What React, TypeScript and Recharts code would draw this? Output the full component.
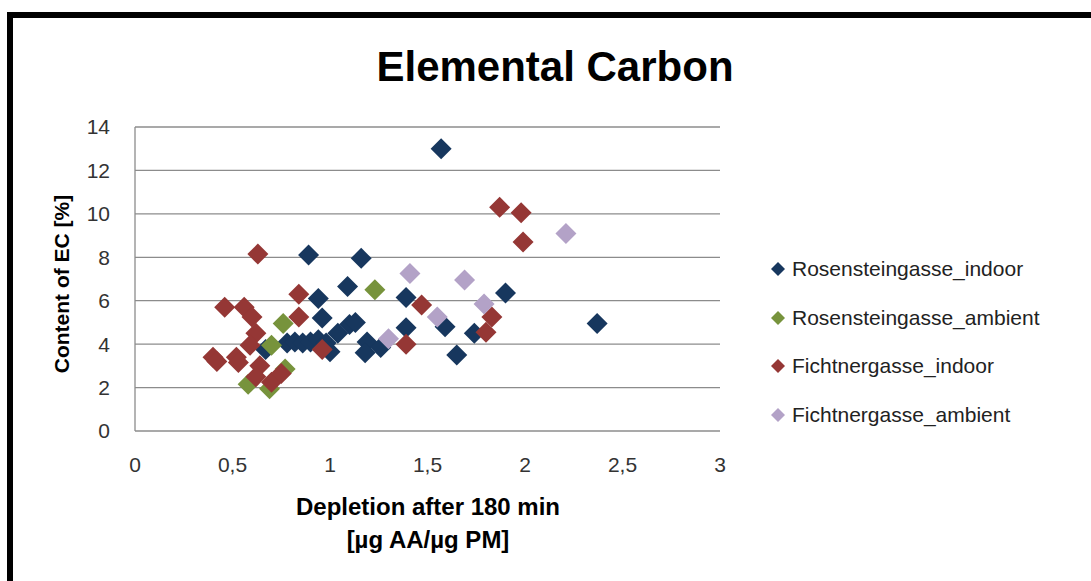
import { ScatterChart, Scatter, XAxis, YAxis, CartesianGrid } from 'recharts';

// Elemental Carbon vs. depletion after 180 min

const rosenIndoorX = [1.57, 0.89, 1.16, 1.09, 0.94, 1.39, 1.9, 2.37, 1.1, 1.13, 0.96, 1.04, 0.78, 0.82, 0.86, 0.9, 0.94, 0.98, 1.19, 1.18, 1.26, 1.39, 1.59, 1.74, 1.65, 0.67, 1.0];
const rosenIndoorY = [13.0, 8.1, 7.95, 6.65, 6.1, 6.15, 6.35, 4.95, 4.9, 5.0, 5.2, 4.5, 4.05, 4.1, 4.05, 4.1, 4.2, 4.05, 4.1, 3.6, 3.85, 4.75, 4.8, 4.5, 3.5, 3.75, 3.65];

const rosenAmbientX = [1.23, 0.76, 0.7, 0.58, 0.69, 0.77];
const rosenAmbientY = [6.5, 4.95, 3.95, 2.15, 1.95, 2.85];

const fichtIndoorX = [0.63, 1.87, 1.98, 1.99, 0.84, 1.47, 1.83, 1.8, 1.39, 0.84, 0.96, 0.46, 0.56, 0.6, 0.62, 0.59, 0.4, 0.42, 0.52, 0.53, 0.64, 0.62, 0.7, 0.75];
const fichtIndoorY = [8.15, 10.3, 10.05, 8.7, 6.3, 5.8, 5.25, 4.55, 4.0, 5.25, 3.75, 5.7, 5.7, 5.25, 4.5, 3.95, 3.4, 3.2, 3.4, 3.15, 3.0, 2.5, 2.25, 2.65];

const fichtAmbientX = [1.41, 1.69, 2.21, 1.79, 1.55, 1.3];
const fichtAmbientY = [7.25, 6.95, 9.1, 5.85, 5.25, 4.25];

const xTicks = [0, 0.5, 1, 1.5, 2, 2.5, 3];
const yTicks = [0, 2, 4, 6, 8, 10, 12, 14];

const toPoints = (xs: number[], ys: number[]) => xs.map((x, i) => ({ x, y: ys[i] }));

const series = [
  { name: 'Rosensteingasse_indoor', color: '#17375E', data: toPoints(rosenIndoorX, rosenIndoorY) },
  { name: 'Rosensteingasse_ambient', color: '#77933C', data: toPoints(rosenAmbientX, rosenAmbientY) },
  { name: 'Fichtnergasse_indoor', color: '#953735', data: toPoints(fichtIndoorX, fichtIndoorY) },
  { name: 'Fichtnergasse_ambient', color: '#B3A2C7', data: toPoints(fichtAmbientX, fichtAmbientY) },
];

const FONT = '"Liberation Sans", Arial, sans-serif';

function diamond(color: string, r: number) {
  return (props: any) => {
    const { cx, cy } = props;
    if (cx == null || cy == null) return <g />;
    return (
      <path
        d={`M${cx},${cy - r}L${cx + r},${cy}L${cx},${cy + r}L${cx - r},${cy}Z`}
        fill={color}
      />
    );
  };
}

export default function App() {
  return (
    <div style={{ position: 'fixed', left: 0, top: 0, width: 1091, height: 581, background: '#fff', overflow: 'hidden', fontFamily: FONT }}>
      {/* thick frame, cut off right and bottom */}
      <div style={{ position: 'absolute', left: 7, top: 12, width: 1200, height: 700, border: '6px solid #000', boxSizing: 'border-box' }} />

      <ScatterChart width={1091} height={581} margin={{ top: 127, right: 371, bottom: 90, left: 75 }} style={{ position: 'absolute', left: 0, top: 0 }}>
        <CartesianGrid vertical={false} stroke="#8c8c8c" strokeWidth={1.3} />
        <XAxis
          type="number"
          dataKey="x"
          domain={[0, 3]}
          ticks={xTicks}
          height={60}
          axisLine={false}
          tickLine={false}
          tickSize={0}
          tickMargin={26}
          tick={{ fill: '#333', fontSize: 21, fontFamily: FONT }}
          tickFormatter={(v: number) => String(v).replace('.', ',')}
        />
        <YAxis
          type="number"
          dataKey="y"
          domain={[0, 14]}
          ticks={yTicks}
          width={60}
          axisLine={{ stroke: '#8c8c8c', strokeWidth: 1.3 }}
          tickLine={false}
          tickSize={0}
          tickMargin={25}
          tick={{ fill: '#333', fontSize: 21, fontFamily: FONT }}
        />
        {series.map(s => (
          <Scatter key={s.name} name={s.name} data={s.data} fill={s.color} shape={diamond(s.color, 10.5)} isAnimationActive={false} />
        ))}
      </ScatterChart>

      <div style={{ position: 'absolute', left: 0, width: 1110, top: 43, textAlign: 'center', fontSize: 42, fontWeight: 'bold', color: '#000' }}>
        Elemental Carbon
      </div>

      <div style={{ position: 'absolute', left: 62, top: 284, transform: 'translate(-50%, -50%) rotate(-90deg)', whiteSpace: 'nowrap', fontSize: 21, fontWeight: 'bold', color: '#000' }}>
        Content of EC [%]
      </div>

      <div style={{ position: 'absolute', left: 228, width: 400, top: 490, textAlign: 'center', fontSize: 24, fontWeight: 'bold', color: '#000', lineHeight: '33px' }}>
        Depletion after 180 min
        <br />
        [µg AA/µg PM]
      </div>

      <div style={{ position: 'absolute', left: 770, top: 245 }}>
        {series.map(s => (
          <div key={s.name} style={{ display: 'flex', alignItems: 'center', height: 48.5 }}>
            <svg width={16} height={16} style={{ marginRight: 6 }}>
              <path d="M8,1L15,8L8,15L1,8Z" fill={s.color} />
            </svg>
            <span style={{ fontSize: 21, color: '#222' }}>{s.name}</span>
          </div>
        ))}
      </div>
    </div>
  );
}
